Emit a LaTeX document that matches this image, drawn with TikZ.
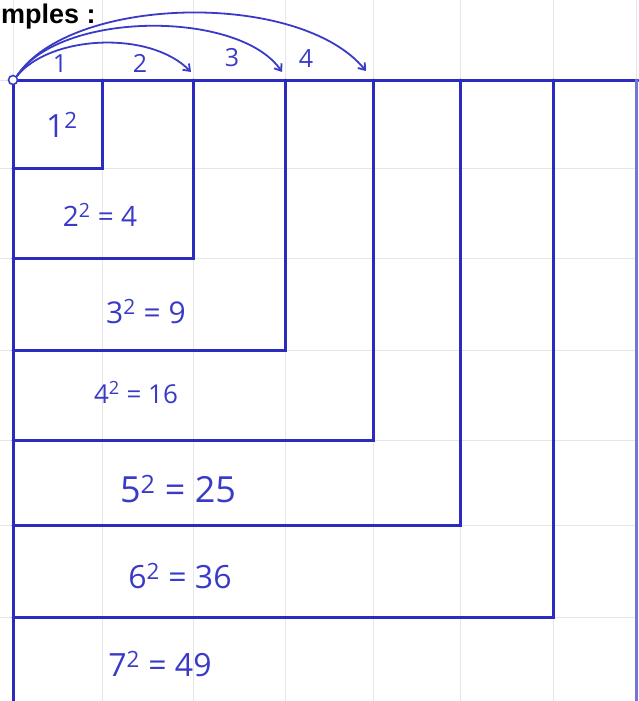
\documentclass[tikz,border=0pt]{standalone}
\usepackage{fontspec}
\setmainfont{Open Sans}
\newfontfamily\headfont{Liberation Sans}
\usetikzlibrary{arrows.meta}
\definecolor{ink}{HTML}{2B2BC0}
\definecolor{pen}{HTML}{3A3AC8}
\definecolor{gridc}{HTML}{E6E6E6}
\tikzset{
  boxline/.style={draw=ink, line width=3pt, line cap=round},
  hop/.style={draw=pen, line width=1.8pt, -{Straight Barb[length=6pt,width=9pt]}},
  sq/.style={text=pen, font=\fontsize{#1}{#1}\selectfont, inner sep=0pt},
  hopnum/.style={text=pen, font=\fontsize{25}{25}\selectfont, inner sep=0pt},
  paper/.style={draw=gridc, line width=0.6pt}
}
\begin{document}
\begin{tikzpicture}[x=1pt,y=-1pt]
\useasboundingbox (0,0) rectangle (638,701);
% paper grid
\foreach \gx in {13,102,193,285,373,460,553,636}{\draw[paper] (\gx,0) -- (\gx,701);}
\foreach \gy in {80,168,258,350,440,525,617}{\draw[paper] (0,\gy) -- (638,\gy);}
% heading
\node[anchor=west, inner sep=0pt, font=\headfont\bfseries\fontsize{27}{27}\selectfont] (head) at (1,17) {mples :};
% nested squares
\coordinate (O) at (13,80);
\draw[boxline] (O) -- (638,80);
\draw[boxline] (O) -- (13,701);
\draw[boxline] (102,80) -- (102,168) -- (13,168);
\draw[boxline] (193,80) -- (193,258) -- (13,258);
\draw[boxline] (285,80) -- (285,350) -- (13,350);
\draw[boxline] (373,80) -- (373,440) -- (13,440);
\draw[boxline] (460,80) -- (460,525) -- (13,525);
\draw[boxline] (553,80) -- (553,617) -- (13,617);
\draw[boxline, draw=pen!70] (636,80) -- (636,701);
% origin point
\node[circle, draw=pen, line width=1.6pt, minimum size=9pt, inner sep=0pt, fill=white] (orig) at (O) {};
% hop targets
\coordinate (t2) at (191,72);
\coordinate (t3) at (282,72);
\coordinate (t4) at (366,71);
\draw[hop] (orig.north east) .. controls (50,35) and (150,30) .. (t2);
\draw[hop] (orig.north east) .. controls (60,10) and (240,10) .. (t3);
\draw[hop] (orig.north east) .. controls (70,-5) and (300,-10) .. (t4);
\node[hopnum] (h1) at (60,64) {1};
\node[hopnum] (h2) at (140,63) {2};
\node[hopnum] (h3) at (232,58) {3};
\node[hopnum] (h4) at (306,59) {4};
% labels
\node[sq=32] (s1) at (62,125) {1\textsuperscript{2}};
\node[sq=28] (s2) at (100,215) {2\textsuperscript{2} = 4};
\node[sq=30] (s3) at (146,312) {3\textsuperscript{2} = 9};
\node[sq=26] (s4) at (136,393) {4\textsuperscript{2} = 16};
\node[sq=36] (s5) at (178,489) {5\textsuperscript{2} = 25};
\node[sq=32] (s6) at (180,576) {6\textsuperscript{2} = 36};
\node[sq=32] (s7) at (160,664) {7\textsuperscript{2} = 49};
\end{tikzpicture}
\end{document}
